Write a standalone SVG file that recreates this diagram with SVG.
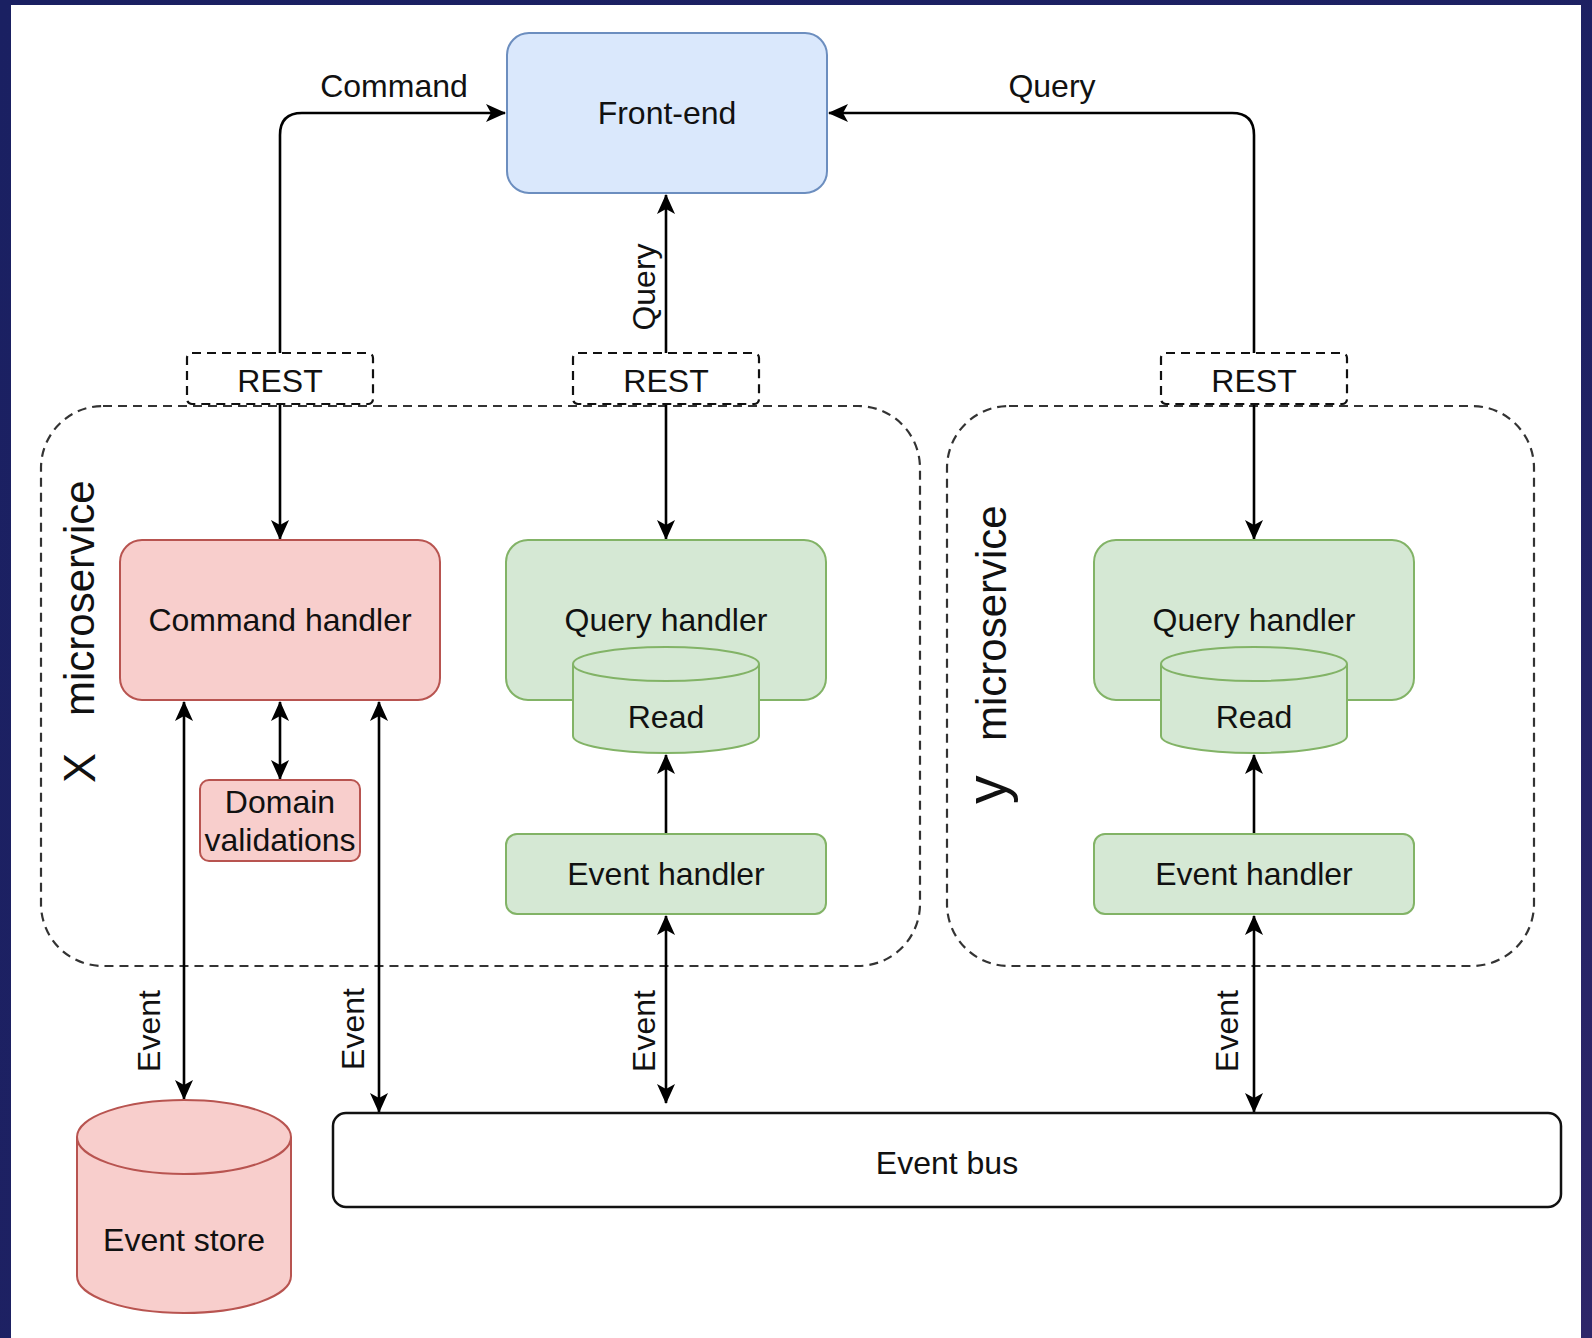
<svg xmlns="http://www.w3.org/2000/svg" width="1592" height="1338" viewBox="0 0 1592 1338">
  <defs>
    <linearGradient id="bg" x1="0" y1="0" x2="1" y2="1">
      <stop offset="0" stop-color="#1a2062"/>
      <stop offset="0.6" stop-color="#1e2163"/>
      <stop offset="1" stop-color="#2e2669"/>
    </linearGradient>
    <marker id="ah" viewBox="0 0 20 18" refX="19" refY="9" markerWidth="20" markerHeight="18" markerUnits="userSpaceOnUse" orient="auto-start-reverse">
      <path d="M0,0 L20,9 L0,18 L5,9 Z" fill="#000"/>
    </marker>
    <style>
      .t { font-family: "Liberation Sans", Arial, Helvetica, sans-serif; font-size: 32px; fill: #111; text-anchor: middle; }
      .big { font-family: "Liberation Sans", Arial, Helvetica, sans-serif; font-size: 42px; fill: #111; }
      .ln { fill: none; stroke: #000; stroke-width: 2.6; }
      .cont { fill: none; stroke: #333; stroke-width: 2.2; stroke-dasharray: 9 6; }
      .rest { fill: #fff; stroke: #111; stroke-width: 2.2; stroke-dasharray: 9 6; }
      .blue { fill: #dae8fc; stroke: #6c8ebf; stroke-width: 2; }
      .red { fill: #f8cecc; stroke: #b85450; stroke-width: 2; }
      .green { fill: #d5e8d4; stroke: #82b366; stroke-width: 2; }
      .bus { fill: #fff; stroke: #111; stroke-width: 2.5; }
    </style>
  </defs>

  <rect x="0" y="0" width="1592" height="1338" fill="url(#bg)"/>
  <rect x="11" y="5" width="1570" height="1333" fill="#fff"/>

  <!-- containers -->
  <g id="x-microservice">
    <rect class="cont" x="41" y="406" width="879" height="560" rx="62" ry="62"/>
    <text class="big" transform="rotate(-90)"><tspan x="-783" y="95" style="font-size:45px">X</tspan><tspan x="-716" y="94">microservice</tspan></text>
  </g>
  <g id="y-microservice">
    <rect class="cont" x="947" y="406" width="587" height="560" rx="62" ry="62"/>
    <text class="big" transform="rotate(-90)"><tspan x="-804" y="1006" style="font-size:57px">y</tspan><tspan x="-741" y="1006">microservice</tspan></text>
  </g>

  <!-- connectors -->
  <g id="connectors">
    <path class="ln" d="M280,353 V135 Q280,113 302,113 H505" marker-end="url(#ah)"/>
    <path class="ln" d="M1254,353 V135 Q1254,113 1232,113 H829" marker-end="url(#ah)"/>
    <path class="ln" d="M666,353 V195" marker-end="url(#ah)"/>
    <path class="ln" d="M280,404 V539" marker-end="url(#ah)"/>
    <path class="ln" d="M666,404 V539" marker-end="url(#ah)"/>
    <path class="ln" d="M1254,404 V539" marker-end="url(#ah)"/>
    <path class="ln" d="M184,702 V1099" marker-start="url(#ah)" marker-end="url(#ah)"/>
    <path class="ln" d="M280,702 V779" marker-start="url(#ah)" marker-end="url(#ah)"/>
    <path class="ln" d="M379,702 V1112" marker-start="url(#ah)" marker-end="url(#ah)"/>
    <path class="ln" d="M666,834 V755" marker-end="url(#ah)"/>
    <path class="ln" d="M666,916 V1103" marker-start="url(#ah)" marker-end="url(#ah)"/>
    <path class="ln" d="M1254,834 V755" marker-end="url(#ah)"/>
    <path class="ln" d="M1254,916 V1112" marker-start="url(#ah)" marker-end="url(#ah)"/>
    <text class="t" x="394" y="97">Command</text>
    <text class="t" x="1052" y="97">Query</text>
    <text class="t" transform="translate(655,287) rotate(-90)">Query</text>
    <text class="t" transform="translate(160,1031) rotate(-90)">Event</text>
    <text class="t" transform="translate(364,1029) rotate(-90)">Event</text>
    <text class="t" transform="translate(655,1031) rotate(-90)">Event</text>
    <text class="t" transform="translate(1238,1031) rotate(-90)">Event</text>
  </g>

  <!-- nodes -->
  <g id="front-end">
    <rect class="blue" x="507" y="33" width="320" height="160" rx="22" ry="22"/>
    <text class="t" x="667" y="124">Front-end</text>
  </g>
  <g id="rest-x-command">
    <rect class="rest" x="187" y="353" width="186" height="51" rx="5"/>
    <text class="t" x="280" y="392">REST</text>
  </g>
  <g id="rest-x-query">
    <rect class="rest" x="573" y="353" width="186" height="51" rx="5"/>
    <text class="t" x="666" y="392">REST</text>
  </g>
  <g id="rest-y-query">
    <rect class="rest" x="1161" y="353" width="186" height="51" rx="5"/>
    <text class="t" x="1254" y="392">REST</text>
  </g>
  <g id="command-handler">
    <rect class="red" x="120" y="540" width="320" height="160" rx="22" ry="22"/>
    <text class="t" x="280" y="631">Command handler</text>
  </g>
  <g id="domain-validations">
    <rect class="red" x="200" y="780" width="160" height="81" rx="9" ry="9"/>
    <text class="t" x="280" y="813">Domain</text>
    <text class="t" x="280" y="851">validations</text>
  </g>
  <g id="query-handler-x">
    <rect class="green" x="506" y="540" width="320" height="160" rx="22" ry="22"/>
    <text class="t" x="666" y="631">Query handler</text>
  </g>
  <g id="read-x">
    <path class="green" d="M573,664 A93,17 0 0 1 759,664 V736 A93,17 0 0 1 573,736 Z"/>
    <path class="green" d="M573,664 A93,17 0 0 0 759,664" fill="none"/>
    <text class="t" x="666" y="728">Read</text>
  </g>
  <g id="event-handler-x">
    <rect class="green" x="506" y="834" width="320" height="80" rx="11" ry="11"/>
    <text class="t" x="666" y="885">Event handler</text>
  </g>
  <g id="query-handler-y">
    <rect class="green" x="1094" y="540" width="320" height="160" rx="22" ry="22"/>
    <text class="t" x="1254" y="631">Query handler</text>
  </g>
  <g id="read-y">
    <path class="green" d="M1161,664 A93,17 0 0 1 1347,664 V736 A93,17 0 0 1 1161,736 Z"/>
    <path class="green" d="M1161,664 A93,17 0 0 0 1347,664" fill="none"/>
    <text class="t" x="1254" y="728">Read</text>
  </g>
  <g id="event-handler-y">
    <rect class="green" x="1094" y="834" width="320" height="80" rx="11" ry="11"/>
    <text class="t" x="1254" y="885">Event handler</text>
  </g>
  <g id="event-store">
    <path class="red" d="M77,1137 A107,37 0 0 1 291,1137 V1276 A107,37 0 0 1 77,1276 Z"/>
    <path class="red" d="M77,1137 A107,37 0 0 0 291,1137" fill="none"/>
    <text class="t" x="184" y="1251">Event store</text>
  </g>
  <g id="event-bus">
    <rect class="bus" x="333" y="1113" width="1228" height="94" rx="13" ry="13"/>
    <text class="t" x="947" y="1174">Event bus</text>
  </g>
</svg>
